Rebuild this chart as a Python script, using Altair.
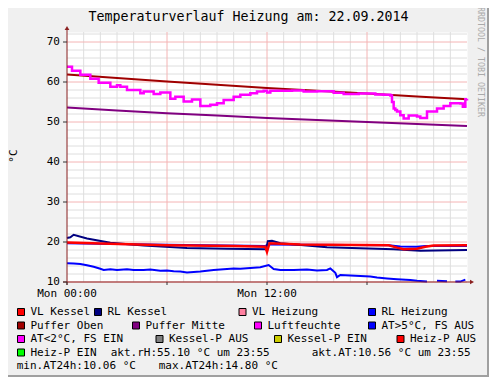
import altair as alt
import pandas as pd

FONT = "DejaVu Sans Mono"

# ---------------- data ----------------
title_text = "Temperaturverlauf Heizung am: 22.09.2014"
y_unit = "°C"
watermark = "RRDTOOL / TOBI OETIKER"

x_tick_hours = [0, 12]
x_tick_labels = ["Mon 00:00", "Mon 12:00"]
x_major_hours = [0, 6, 12, 18, 24]
x_minor_hours = list(range(0, 25))
y_tick_values = [10, 20, 30, 40, 50, 60, 70]
y_minor_values = list(range(10, 73, 2))

# Puffer Oben
po_h = [0, 3, 6, 9, 12, 15, 18, 21, 24]
po_v = [61.9, 61.0, 60.1, 59.3, 58.5, 57.8, 57.1, 56.4, 55.7]
# Puffer Mitte
pm_h = [0, 3, 6, 9, 12, 15, 18, 21, 24]
pm_v = [53.6, 52.9, 52.2, 51.6, 51.0, 50.5, 50.0, 49.5, 49.0]
# Luftfeuchte
lf_h = [0, 0.3, 0.8, 1.4, 1.9, 2.6, 3.0, 3.2, 3.6, 4.4,
        4.6, 5.2, 5.6, 6.2, 6.5, 7.0, 7.5, 8.0, 8.6, 9.0,
        9.4, 10.0, 10.4, 11.0, 11.4, 11.8, 12.0, 12.2, 13.5, 14.2,
        15.0, 16.0, 16.6, 17.5, 18.5, 19.0, 19.4, 19.5, 19.6, 19.7,
        19.8, 20.0, 20.2, 20.5, 21.0, 21.2, 21.6, 22.2, 22.6, 23.0,
        23.6, 23.75, 23.9, 24.0]
lf_v = [63.8, 62.8, 61.8, 60.8, 59.8, 58.8, 59.2, 58.8, 58.0, 57.2,
        57.6, 57.0, 57.4, 55.8, 56.3, 55.1, 55.6, 54.0, 54.3, 54.7,
        55.5, 56.3, 56.8, 57.2, 57.6, 57.8, 57.4, 57.8, 57.9, 57.6,
        57.7, 57.3, 57.0, 57.1, 56.9, 56.8, 56.6, 55.0, 53.4, 53.0,
        52.6, 51.7, 50.9, 51.6, 51.4, 51.0, 52.6, 53.4, 54.0, 54.7,
        54.6, 53.8, 55.7, 55.8]
# RL Kessel
rk_h = [0, 0.2, 0.4, 1.2, 2.6, 4.6, 7.2, 9.6, 11.95, 12.05, 12.3, 12.8, 15.6, 19.6, 21.2, 24]
rk_v = [21.0, 21.2, 21.8, 20.9, 19.8, 19.1, 18.5, 18.3, 18.2, 20.2, 20.3, 19.7, 18.7, 18.2, 17.8, 18.0]
# VL Kessel
vk_h = [0, 2, 6, 10, 11.9, 12.0, 12.15, 14, 19.3, 19.8, 20.2, 21.0, 21.5, 22.0, 24]
vk_v = [19.9, 19.6, 19.2, 19.0, 18.8, 17.5, 19.7, 19.4, 19.2, 18.6, 18.2, 18.3, 18.8, 19.1, 19.2]
# RL Heizung
rh_h = [0, 6, 11.9, 12.1, 19.3, 20.0, 21.0, 21.5, 24]
rh_v = [19.7, 19.3, 19.0, 19.4, 19.2, 18.9, 18.8, 19.0, 19.0]
# AT (Aussentemperatur)
at_h = [0, 0.4, 0.8, 1.2, 1.6, 2.0, 2.2, 2.6, 3.0, 3.6,
        4.0, 4.6, 5.0, 5.6, 6.0, 6.4, 6.8, 7.2, 7.6, 8.0,
        8.4, 8.8, 9.4, 10.0, 10.4, 11.0, 11.6, 12.1, 12.4, 12.8,
        13.6, 14.4, 15.0, 15.6, 15.8, 16.1, 16.2, 16.4, 17.0, 17.6,
        18.2, 18.6, 19.2, 19.8, 20.6, 21.0, 21.6, 22.2, 22.8, 23.3,
        23.6, 23.9]
at_v = [14.7, 14.6, 14.5, 14.2, 13.8, 13.3, 13.0, 13.2, 13.0, 13.2,
        13.0, 13.0, 13.1, 12.8, 12.9, 12.7, 12.6, 12.4, 12.5, 12.6,
        12.8, 13.0, 13.2, 13.4, 13.3, 13.5, 13.7, 14.25, 13.25, 13.0,
        13.0, 13.1, 12.9, 13.0, 13.4, 12.3, 11.2, 11.75, 11.6, 11.5,
        11.4, 11.1, 10.9, 10.7, 10.5, 10.3, 10.1, 10.3, 10.2, 10.1,
        10.1, 10.6]
at_seg = [0] * 47 + [1, 1, 2, 2, 2]

legend_labels = ["VL Kessel", "RL Kessel", "VL Heizung", "RL Heizung",
                 "Puffer Oben", "Puffer Mitte", "Luftfeuchte", "AT>5°C, FS AUS",
                 "AT<2°C, FS EIN", "Kessel-P AUS", "Kessel-P EIN", "Heiz-P AUS",
                 "Heiz-P EIN"]
legend_colors = ["#FF0000", "#000080", "#FF80A0", "#0000FF",
                 "#A00000", "#800080", "#FF00FF", "#0000FF",
                 "#FF00FF", "#808080", "#CCCC00", "#FF0000",
                 "#00FF00"]
info_texts = ["akt.rH:55.10 °C um 23:55", "akt.AT:10.56 °C um 23:55",
              "min.AT24h:10.06 °C", "max.AT24h:14.80 °C"]

# ---------------- layout (page pixels) ----------------
W, H = 400, 250
X0, Y0 = 67, 32
def rx(p): return p - X0
def ry(p): return p - Y0

leg_box_x = [21, 98, 242.5, 372, 21, 136, 258, 372, 21, 159.5, 278, 400.5, 21]
leg_row = [0, 0, 0, 0, 1, 1, 1, 1, 2, 2, 2, 2, 3]
row_y = [312, 325.5, 339, 352.5, 366]
info_x = [110.7, 311.7, 16.7, 158.7]
info_row = [3, 3, 4, 4]

AXIS_C = "#8B2020"
MINOR_C = "#DEDEDE"
MAJOR_C = "#F4B4B4"

xs = alt.Scale(domain=[0, 24], nice=False, zero=False)
ys = alt.Scale(domain=[10, 72.5], nice=False, zero=False)
one = pd.DataFrame({"k": [0]})

layers = []

# grid
def xgrid(vals, color):
    return alt.Chart(pd.DataFrame({"g": vals})).mark_rule(color=color, strokeWidth=1).encode(
        x=alt.X("g:Q", scale=xs, axis=None))
def ygrid(vals, color):
    return alt.Chart(pd.DataFrame({"g": vals})).mark_rule(color=color, strokeWidth=1).encode(
        y=alt.Y("g:Q", scale=ys, axis=None))

layers.append(xgrid([h for h in x_minor_hours if h not in x_major_hours], MINOR_C))
layers.append(ygrid([v for v in y_minor_values if v not in y_tick_values], MINOR_C))
layers.append(xgrid([h for h in x_major_hours if h not in (0, 24)], MAJOR_C))
layers.append(ygrid(y_tick_values, MAJOR_C))

# series
def series(h, v, color, width=2, interp="linear", seg=None):
    df = pd.DataFrame({"h": h, "v": v, "seg": seg if seg is not None else [0] * len(h)})
    return alt.Chart(df).mark_line(color=color, strokeWidth=width, interpolate=interp).encode(
        x=alt.X("h:Q", scale=xs, axis=None),
        y=alt.Y("v:Q", scale=ys, axis=None),
        detail="seg:N")

layers.append(series(rh_h, rh_v, "#0000FF"))
layers.append(series(rk_h, rk_v, "#000080"))
layers.append(series(vk_h, vk_v, "#FF0000", 2.5))
layers.append(series(po_h, po_v, "#A00000"))
layers.append(series(pm_h, pm_v, "#800080"))
layers.append(series(lf_h, lf_v, "#FF00FF", 2.5, "step-after"))
layers.append(series(at_h, at_v, "#0000FF", 2, "linear", at_seg))

# axes
layers.append(alt.Chart(one).mark_rule(color=AXIS_C, strokeWidth=1).encode(
    x=alt.value(0), y=alt.value(H + 3), y2=alt.value(-3)))
layers.append(alt.Chart(one).mark_rule(color=AXIS_C, strokeWidth=1).encode(
    x=alt.value(-4), x2=alt.value(W + 3), y=alt.value(H)))
layers.append(alt.Chart(one).mark_point(shape="triangle-up", filled=True, color=AXIS_C,
                                        size=22, opacity=1).encode(
    x=alt.value(0), y=alt.value(-4)))
layers.append(alt.Chart(one).mark_point(shape="triangle-right", filled=True, color=AXIS_C,
                                        size=22, opacity=1).encode(
    x=alt.value(W + 5), y=alt.value(H)))
# ticks
layers.append(alt.Chart(pd.DataFrame({"g": y_tick_values})).mark_rule(color="#333333").encode(
    y=alt.Y("g:Q", scale=ys, axis=None), x=alt.value(-4), x2=alt.value(0)))
layers.append(alt.Chart(pd.DataFrame({"g": x_major_hours[:-1]})).mark_rule(color="#333333").encode(
    x=alt.X("g:Q", scale=xs, axis=None), y=alt.value(H), y2=alt.value(H + 3)))

# tick labels
layers.append(alt.Chart(pd.DataFrame({"g": y_tick_values})).mark_text(
    font=FONT, fontSize=11, align="right", baseline="middle", color="#000000").encode(
    y=alt.Y("g:Q", scale=ys, axis=None), x=alt.value(-7), text=alt.Text("g:Q")))
layers.append(alt.Chart(pd.DataFrame({"g": x_tick_hours, "t": x_tick_labels})).mark_text(
    font=FONT, fontSize=11, align="center", baseline="middle", color="#000000").encode(
    x=alt.X("g:Q", scale=xs, axis=None), y=alt.value(ry(294)), text="t:N"))

# title, unit, watermark
layers.append(alt.Chart(one).mark_text(text=title_text, font=FONT, fontSize=13.3,
                                       align="center", baseline="alphabetic", color="#000000").encode(
    x=alt.value(rx(248.5)), y=alt.value(ry(21))))
layers.append(alt.Chart(one).mark_text(text=y_unit, font=FONT, fontSize=11, angle=270,
                                       align="center", baseline="middle", color="#000000").encode(
    x=alt.value(rx(14)), y=alt.value(ry(156))))
layers.append(alt.Chart(one).mark_text(text=watermark, font=FONT, fontSize=8.3, angle=90,
                                       align="center", baseline="middle", color="#AAAAAA").encode(
    x=alt.value(rx(480)), y=alt.value(ry(62))))

# legend
for lab, col, bx, r in zip(legend_labels, legend_colors, leg_box_x, leg_row):
    layers.append(alt.Chart(one).mark_square(size=49, filled=True, color=col, stroke="#000000",
                                             strokeWidth=1, opacity=1).encode(
        x=alt.value(rx(bx)), y=alt.value(ry(row_y[r]))))
    layers.append(alt.Chart(one).mark_text(text=lab, font=FONT, fontSize=11, align="left",
                                           baseline="middle", color="#000000").encode(
        x=alt.value(rx(bx + 9.5)), y=alt.value(ry(row_y[r]))))
for t, ix, r in zip(info_texts, info_x, info_row):
    layers.append(alt.Chart(one).mark_text(text=t, font=FONT, fontSize=11, align="left",
                                           baseline="middle", color="#000000").encode(
        x=alt.value(rx(ix)), y=alt.value(ry(row_y[r]))))

# frame edge (right / bottom)
layers.append(alt.Chart(one).mark_rule(color="#A0A0A0", strokeWidth=2).encode(
    x=alt.value(rx(488)), y=alt.value(ry(8)), y2=alt.value(ry(377))))
layers.append(alt.Chart(one).mark_rule(color="#A0A0A0", strokeWidth=2).encode(
    x=alt.value(rx(8)), x2=alt.value(rx(489)), y=alt.value(ry(376))))

chart = alt.layer(*layers).properties(
    width=W, height=H,
    autosize=alt.AutoSizeParams(type="none"),
    padding={"left": 59, "top": 24, "right": 22, "bottom": 95},
    background="#F0F0F0",
).configure_view(fill="#FFFFFF", stroke="transparent")

chart.save("out.html", embed_options={"renderer": "svg", "actions": False})
